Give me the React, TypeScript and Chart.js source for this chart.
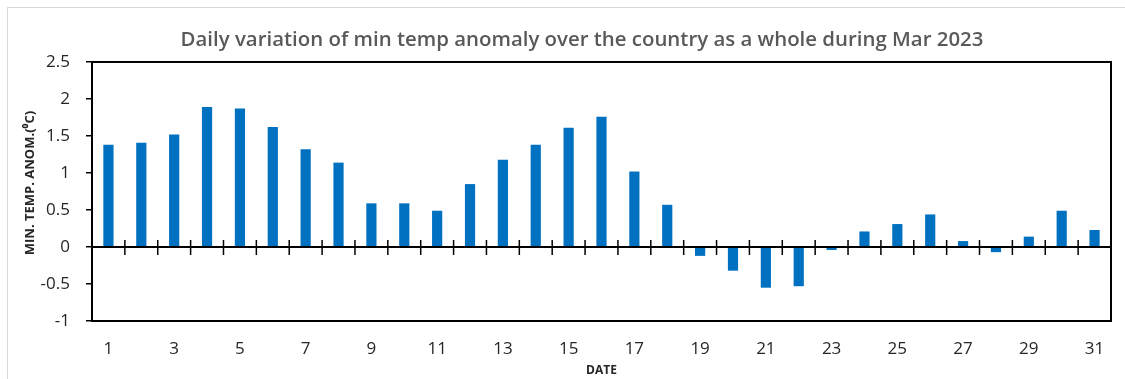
import React, { useEffect, useRef } from "react";
import { Chart, registerables } from "chart.js";

Chart.register(...registerables);

const days: string[] = Array.from({ length: 31 }, (_, i) => String(i + 1));
const anomalies: number[] = [
  1.38, 1.41, 1.52, 1.89, 1.87, 1.62, 1.32, 1.14, 0.59, 0.59,
  0.49, 0.85, 1.18, 1.38, 1.61, 1.76, 1.02, 0.57, -0.12, -0.32,
  -0.55, -0.53, -0.04, 0.21, 0.31, 0.44, 0.08, -0.07, 0.14, 0.49,
  0.23,
];
const yMin = -1;
const yMax = 2.5;
const yStep = 0.5;
const titleText = "          Daily variation of min temp anomaly over the country as a whole during Mar 2023";
const yTitle = "     MIN. TEMP. ANOM.(\u2070C)";
const xTitle = "DATE";

const frameAndTicks = {
  id: "frameAndTicks",
  afterDatasetsDraw(chart: any) {
    const { ctx, chartArea, scales } = chart;
    const x = scales.x;
    const y = scales.y;
    ctx.save();
    ctx.strokeStyle = "#000";
    ctx.lineWidth = 2;
    const y0 = y.getPixelForValue(0);
    ctx.beginPath();
    ctx.moveTo(chartArea.left, y0);
    ctx.lineTo(chartArea.right, y0);
    ctx.stroke();
    ctx.lineWidth = 1.5;
    const n = days.length;
    for (let i = 1; i < n; i++) {
      const px = (x.getPixelForValue(i - 1) + x.getPixelForValue(i)) / 2;
      ctx.beginPath();
      ctx.moveTo(px, y0 - 7);
      ctx.lineTo(px, y0 + 8);
      ctx.stroke();
    }
    ctx.lineWidth = 2;
    ctx.strokeRect(chartArea.left, chartArea.top, chartArea.right - chartArea.left, chartArea.bottom - chartArea.top);
    ctx.restore();
  },
};

export default function App() {
  const ref = useRef<HTMLCanvasElement | null>(null);
  useEffect(() => {
    if (!ref.current) return;
    const chart = new Chart(ref.current, {
      type: "bar",
      data: {
        labels: days,
        datasets: [
          {
            data: anomalies,
            backgroundColor: "#0070C0",
            borderWidth: 0,
            barPercentage: 0.31,
            categoryPercentage: 1,
          },
        ],
      },
      options: {
        animation: false,
        responsive: false,
        maintainAspectRatio: false,
        layout: { padding: { left: 0, right: 14, top: 0, bottom: 0 } },
        plugins: {
          legend: { display: false },
          tooltip: { enabled: false },
          title: {
            display: true,
            text: titleText,
            color: "#595959",
            font: { family: "Open Sans", size: 20.4, weight: "600", lineHeight: 1.2 },
            padding: { top: 27.8, bottom: 9.7 },
          },
        },
        scales: {
          x: {
            grid: { display: false, drawTicks: false },
            border: { display: false },
            ticks: {
              autoSkip: false,
              maxRotation: 0,
              padding: 18,
              color: "#262626",
              font: { family: "Open Sans", size: 17 },
              callback: (_v: any, idx: number) => (idx % 2 === 0 ? days[idx] : ""),
            },
            title: {
              display: true,
              text: xTitle,
              color: "#262626",
              font: { family: "Open Sans", size: 12, weight: "bold", lineHeight: 1.2 },
              padding: { top: 0, bottom: 1 },
            },
            afterFit: (s: any) => {
              s.height = 58;
            },
          },
          y: {
            min: yMin,
            max: yMax,
            grid: {
              drawOnChartArea: false,
              drawTicks: true,
              tickLength: 6,
              color: "#000",
              lineWidth: 1.5,
            },
            border: { display: true, color: "#000", width: 2 },
            ticks: {
              stepSize: yStep,
              padding: 16,
              color: "#262626",
              font: { family: "Open Sans", size: 17 },
              callback: (v: any) => String(Number(v)),
            },
            title: {
              display: true,
              text: yTitle,
              color: "#262626",
              font: { family: "Open Sans", size: 13, weight: "bold", lineHeight: 1.2 },
              padding: { top: 22, bottom: 0 },
            },
            afterFit: (s: any) => {
              s.width = 92;
            },
          },
        },
      },
      plugins: [frameAndTicks],
    });
    return () => chart.destroy();
  }, []);

  return (
    <div
      style={{
        position: "absolute",
        left: 0,
        top: 0,
        width: 1125,
        height: 379,
        overflow: "hidden",
        background: "#fff",
      }}
    >
      <div
        style={{
          position: "absolute",
          left: 7,
          top: 7,
          width: 1200,
          height: 500,
          border: "1px solid #d9d9d9",
        }}
      />
      <canvas ref={ref} width={1125} height={379} style={{ position: "absolute", left: 0, top: 0 }} />
    </div>
  );
}
